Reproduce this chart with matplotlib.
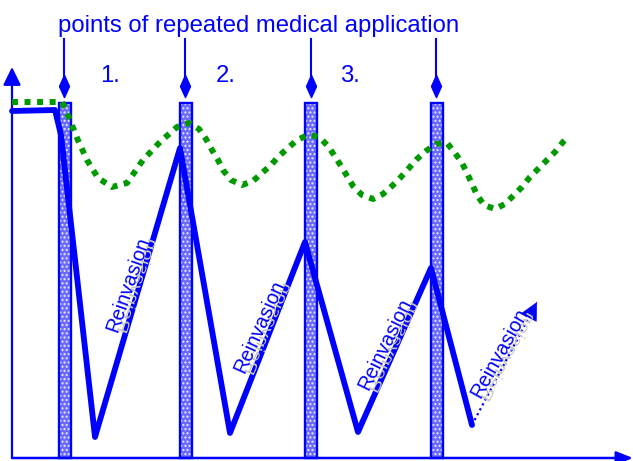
"""Repeated medical application vs. reinvasion sketch."""

import numpy as np
import matplotlib

matplotlib.use("Agg")
import matplotlib.pyplot as plt
from matplotlib.font_manager import FontProperties
from matplotlib.patches import PathPatch, Rectangle
from matplotlib.textpath import TextPath
from matplotlib.transforms import Affine2D

plt.rcParams["font.family"] = ["Liberation Sans", "DejaVu Sans"]

W, H = 633, 461
BLUE = "#0000ff"
GREEN = "#009900"

# everything below in image pixels (y grows downward)
title = "points of repeated medical application"
round_labels = ["1.", "2.", "3."]
round_x = [100, 216, 340]

bar_left = [59, 180, 305, 431]
marker_x = [64, 185, 311, 436]

blue_x = [12, 55, 61, 95, 180, 230, 305, 358, 431, 472]
blue_y = [111, 110, 135, 437, 148, 433, 242, 432, 268, 425]

green_x = [12, 62, 68, 77, 87, 98, 112, 127, 143, 160, 177, 189, 199, 206, 212,
           218, 223, 231, 242, 253, 262, 271, 279, 288, 297, 308, 319, 328, 334,
           341, 347, 353, 362, 373, 383, 392, 400, 409, 417, 426, 436, 447, 455,
           462, 467, 472, 477, 484, 495, 505, 514, 522, 530, 538, 547, 555, 563, 568]
green_y = [102, 102, 115, 138, 160, 178, 187, 183, 160, 142, 127, 123, 129, 139, 150,
           160, 170, 180, 185, 181, 173, 165, 156, 148, 140, 135, 137, 146, 155,
           166, 176, 186, 195, 199, 194, 186, 178, 168, 159, 151, 144, 143, 153,
           163, 173, 184, 195, 205, 209, 204, 195, 187, 177, 169, 160, 152, 142, 137]

trend_x = [472, 537]
trend_y = [425, 302]

reinv_text = "Reinvasion"
reinv_x = [126, 257, 383, 497]
reinv_y = [285, 327, 345, 354]
reinv_rot = [71, 66, 64, 61]

fig = plt.figure(figsize=(W / 100, H / 100), dpi=100)
ax = fig.add_axes([0, 0, 1, 1])
ax.set_xlim(0, W)
ax.set_ylim(H, 0)
ax.axis("off")

# axes with arrow heads
origin = (12, 458)
ax.annotate("", xy=(12, 67), xytext=origin,
            arrowprops=dict(arrowstyle="-|>,head_length=0.55,head_width=0.27",
                            color=BLUE, lw=1.6, shrinkA=0, shrinkB=0,
                            mutation_scale=20))
ax.annotate("", xy=(633, 458), xytext=origin,
            arrowprops=dict(arrowstyle="-|>,head_length=0.5,head_width=0.2",
                            color=BLUE, lw=1.8, shrinkA=0, shrinkB=0,
                            mutation_scale=20))

# application columns
for left in bar_left:
    ax.add_patch(Rectangle((left, 103), 12, 458 - 103, facecolor="#6a6aff",
                           edgecolor="#e8e8ff", hatch="....", lw=0, zorder=2))
    ax.add_patch(Rectangle((left, 103), 12, 458 - 103, fill=False,
                           edgecolor=BLUE, lw=1.7, zorder=2))

# pointer arrows with diamond heads
diamond = [(0, 1), (0.45, 0), (0, -1), (-0.45, 0), (0, 1)]
for x in marker_x:
    ax.plot([x, x], [39, 90], color=BLUE, lw=1.5, zorder=3)
    ax.plot([x], [86], marker=diamond, markersize=16, color=BLUE, zorder=3)

ax.text(58, 32, title, color=BLUE, fontsize=17.2, ha="left", va="baseline")
for lab, x in zip(round_labels, round_x):
    ax.text(x, 82, lab, color=BLUE, fontsize=17.2, ha="left", va="baseline")

# curves
ax.plot(blue_x, blue_y, color=BLUE, lw=4.2, solid_joinstyle="round",
        solid_capstyle="round", zorder=4)
ax.plot(green_x, green_y, color=GREEN, lw=4.3, linestyle=(0, (1, 1.1)),
        dash_capstyle="butt", zorder=5)

ax.plot(trend_x, trend_y, color=BLUE, lw=1.6, linestyle=(0, (1, 1.5)), zorder=4)
d = np.array([trend_x[1] - trend_x[0], trend_y[1] - trend_y[0]], dtype=float)
d /= np.hypot(*d)
ax.annotate("", xy=(trend_x[1], trend_y[1]),
            xytext=(trend_x[1] - 4 * d[0], trend_y[1] - 4 * d[1]),
            arrowprops=dict(arrowstyle="-|>,head_length=0.6,head_width=0.3",
                            color=BLUE, lw=0.5, shrinkA=0, shrinkB=0,
                            mutation_scale=20), zorder=4)

# "Reinvasion" labels with a grey squashed reflection underneath
em = 20.0
fp = FontProperties(family="Liberation Sans")
tp = TextPath((0, 0), reinv_text, size=em, prop=fp)
tw = tp.get_extents().width
for cx, cy, rot in zip(reinv_x, reinv_y, reinv_rot):
    th = np.radians(rot)
    u = np.array([np.cos(th), -np.sin(th)])
    n = np.array([np.sin(th), np.cos(th)])
    bx, by = np.array([cx, cy]) - u * tw / 2 + n * 0.36 * em
    shadow = PathPatch(tp, facecolor="#c4c4c4", edgecolor="none", zorder=5.5,
                       transform=Affine2D().scale(1, 0.75).translate(1, -1)
                       .rotate_deg(-rot).translate(bx, by) + ax.transData)
    ax.add_patch(shadow)
    ax.text(bx, by, reinv_text, color=BLUE, fontsize=em * 72 / 100, rotation=rot,
            rotation_mode="anchor", ha="left", va="baseline", zorder=6)

fig.savefig("out.png", dpi=100)
